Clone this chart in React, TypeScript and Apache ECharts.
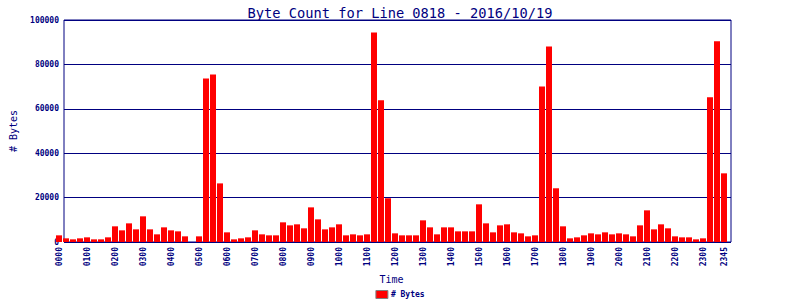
import React, { useEffect, useRef } from "react";
import * as echarts from "echarts";

const titleText = "Byte Count for Line 0818 - 2016/10/19";
const seriesName = "# Bytes";
const xAxisName = "Time";
const yAxisName = "# Bytes";

const timeSlots = [
  "0000", "0015", "0030", "0045", "0100", "0115", "0130", "0145",
  "0200", "0215", "0230", "0245", "0300", "0315", "0330", "0345",
  "0400", "0415", "0430", "0445", "0500", "0515", "0530", "0545",
  "0600", "0615", "0630", "0645", "0700", "0715", "0730", "0745",
  "0800", "0815", "0830", "0845", "0900", "0915", "0930", "0945",
  "1000", "1015", "1030", "1045", "1100", "1115", "1130", "1145",
  "1200", "1215", "1230", "1245", "1300", "1315", "1330", "1345",
  "1400", "1415", "1430", "1445", "1500", "1515", "1530", "1545",
  "1600", "1615", "1630", "1645", "1700", "1715", "1730", "1745",
  "1800", "1815", "1830", "1845", "1900", "1915", "1930", "1945",
  "2000", "2015", "2030", "2045", "2100", "2115", "2130", "2145",
  "2200", "2215", "2230", "2245", "2300", "2315", "2330", "2345",
];

const byteCounts = [
  3000, 1650, 1200, 1650, 2100, 1200, 1200, 2100,
  7060, 5250, 8400, 5700, 11560, 5700, 3450, 6600,
  5250, 4800, 2550, 0, 2550, 73700, 75500, 26400,
  4350, 1200, 1650, 2100, 5250, 3450, 3000, 3000,
  8860, 7500, 7960, 6160, 15600, 10200, 5700, 6600,
  7960, 3000, 3450, 3000, 3450, 94400, 63800, 19700,
  3900, 3000, 3000, 3000, 9760, 6600, 3450, 6600,
  6600, 4800, 4800, 4800, 16970, 8400, 4350, 7500,
  7960, 4350, 3900, 2550, 3000, 70100, 88100, 24200,
  7060, 1650, 2100, 3000, 3900, 3450, 4350, 3450,
  3900, 3450, 2550, 7500, 14260, 5700, 7960, 6160,
  2550, 2100, 2100, 1200, 1650, 65170, 90400, 30930,
];

const yMin = 0;
const yMax = 100000;
const yStep = 20000;

const NAVY = "#000080";
const MONO = "DejaVu Sans Mono";

export default function App() {
  const ref = useRef<HTMLDivElement>(null);

  useEffect(() => {
    if (!ref.current) return;
    const chart = echarts.init(ref.current, null, { renderer: "svg" });
    const lastIdx = timeSlots.length - 1;
    chart.setOption({
      animation: false,
      backgroundColor: "#ffffff",
      title: {
        text: titleText,
        left: "center",
        top: 1,
        textStyle: { fontFamily: MONO, fontSize: 13.7, fontWeight: "normal", color: NAVY },
      },
      legend: {
        data: [seriesName],
        top: 290,
        left: "center",
        padding: 0,
        itemWidth: 12,
        itemHeight: 8,
        itemGap: 4,
        icon: "rect",
        itemStyle: { borderColor: "#808080", borderWidth: 1 },
        textStyle: { fontFamily: MONO, fontSize: 8, fontWeight: "bold", color: NAVY, padding: [0, 0, 0, -2] },
      },
      grid: [
        { left: 52, top: 20, width: 679, height: 222, show: true, borderColor: NAVY, borderWidth: 1, backgroundColor: "transparent" },
        { left: 55.5, top: 20, width: 672, height: 222 },
      ],
      xAxis: [
        { gridIndex: 0, type: "value", show: false, min: 0, max: 1 },
        {
          gridIndex: 1,
          type: "category",
          data: timeSlots,
          boundaryGap: true,
          axisLine: { show: false },
          axisTick: { show: false },
          splitLine: { show: false },
          name: xAxisName,
          nameLocation: "middle",
          nameGap: 29,
          nameTextStyle: { fontFamily: MONO, fontSize: 10, color: NAVY },
          axisLabel: {
            rotate: 90,
            margin: 5,
            interval: (i: number) => i % 4 === 0 || i === lastIdx,
            fontFamily: MONO,
            fontSize: 8,
            fontWeight: "bold",
            color: NAVY,
          },
        },
      ],
      yAxis: [
        {
          gridIndex: 0,
          type: "value",
          min: yMin,
          max: yMax,
          interval: yStep,
          axisLine: { show: false },
          axisTick: { show: false },
          splitLine: { show: true, lineStyle: { color: NAVY, width: 1 } },
          name: yAxisName,
          nameLocation: "middle",
          nameGap: 46,
          nameTextStyle: { fontFamily: MONO, fontSize: 10, color: NAVY },
          axisLabel: {
            margin: 5,
            showMinLabel: true,
            showMaxLabel: true,
            hideOverlap: false,
            formatter: (v: number) => String(v),
            fontFamily: MONO,
            fontSize: 8,
            fontWeight: "bold",
            color: NAVY,
          },
        },
        { gridIndex: 1, type: "value", min: yMin, max: yMax, interval: yStep, show: false },
      ],
      series: [
        {
          name: seriesName,
          type: "bar",
          xAxisIndex: 1,
          yAxisIndex: 1,
          data: byteCounts,
          barWidth: 6,
          itemStyle: { color: "#ff0000" },
        },
      ],
    });
    return () => chart.dispose();
  }, []);

  return (
    <div
      ref={ref}
      style={{ position: "fixed", left: 0, top: 0, width: 800, height: 300 }}
    />
  );
}
